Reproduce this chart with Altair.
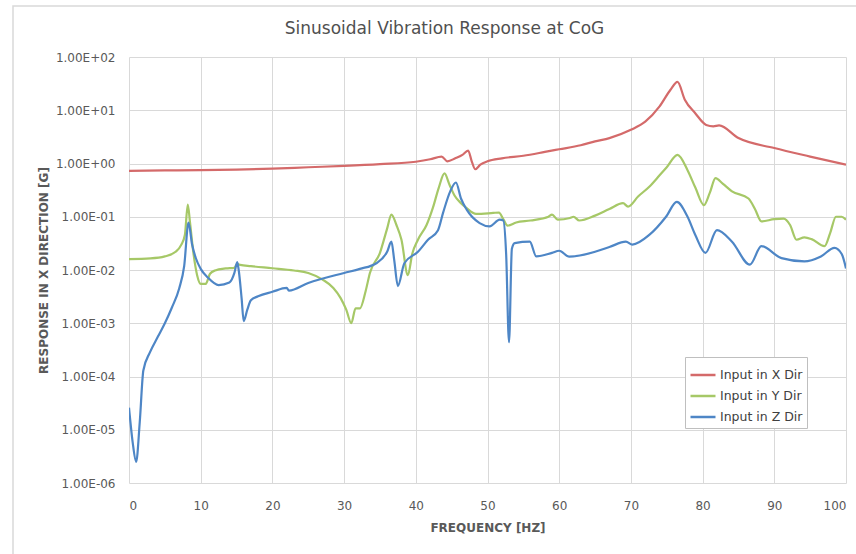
import altair as alt
import pandas as pd

# ---- data ----
x_freq = [0, 5, 10, 15, 20, 25, 30, 35, 40, 42, 43.6, 44.4, 45.5, 46.5, 47.3, 47.8, 48.3, 49, 50, 52,
          55, 58, 60, 63, 65, 67, 70, 72, 74, 75.5, 76.5, 77.5, 79, 80.5, 81.5, 82.3, 85, 90, 95, 100]
x_resp = [0.73, 0.74, 0.75, 0.77, 0.80, 0.85, 0.90, 0.97, 1.08, 1.2, 1.35, 1.1, 1.25, 1.45, 1.75, 1.1, 0.78, 0.95, 1.1, 1.25,
          1.4, 1.65, 1.85, 2.2, 2.6, 3.0, 4.3, 6.1, 11.8, 24, 34, 16, 8.7, 5.3, 5.0, 5.2, 3.0, 1.95, 1.35, 0.95]

y_freq = [0, 3, 5, 6.5, 7.3, 7.8, 8.2, 8.5, 9, 9.5, 10, 10.7, 11.3, 12, 13.5, 14.7, 15.1, 15.5, 17, 20,
          23, 25, 27, 28.5, 29.5, 30.3, 31, 31.6, 32.2, 33, 33.6, 35, 36, 36.6, 37.3, 38, 38.9, 39.5, 40.3, 41.5,
          42.4, 43.2, 44, 44.7, 45.4, 46.3, 47.1, 48.4, 50.8, 51.6, 52.2, 52.8, 54, 56, 58.5, 59, 59.8, 61.5, 62, 62.8,
          65, 67, 68.9, 69.6, 71, 72.6, 74, 75, 76.5, 77.9, 79, 80.2, 81, 81.8, 82.8, 84.1, 86.4, 87.3, 88.2, 90,
          91.3, 92.2, 93.1, 94.2, 95.2, 97, 97.8, 98.6, 99.4, 100]
y_resp = [0.016, 0.0165, 0.018, 0.022, 0.03, 0.046, 0.17, 0.08, 0.02, 0.008, 0.0055, 0.0055, 0.0085, 0.0098, 0.0107, 0.011, 0.013, 0.0125, 0.0118, 0.0108,
          0.0098, 0.0088, 0.0066, 0.0046, 0.003, 0.0018, 0.001, 0.0019, 0.0019, 0.004, 0.0088, 0.021, 0.06, 0.11, 0.07, 0.037, 0.008, 0.02, 0.037, 0.07,
          0.15, 0.35, 0.65, 0.4, 0.25, 0.18, 0.145, 0.113, 0.118, 0.12, 0.09, 0.068, 0.078, 0.085, 0.10, 0.11, 0.088, 0.095, 0.10, 0.085,
          0.105, 0.14, 0.18, 0.155, 0.24, 0.37, 0.6, 0.85, 1.45, 0.75, 0.35, 0.165, 0.28, 0.53, 0.42, 0.30, 0.22, 0.14, 0.082, 0.09,
          0.092, 0.07, 0.037, 0.041, 0.038, 0.028, 0.05, 0.1, 0.1, 0.088]

z_freq = [0, 0.5, 1.0, 1.5, 2.0, 2.9, 4, 5, 6, 7, 7.7, 8.3, 8.8, 9.3, 10, 11, 12.5, 14, 14.7, 15.1,
          15.3, 15.7, 16, 16.5, 17, 18, 20, 22, 22.3, 25, 30, 32.2, 34.5, 36, 36.6, 37, 37.5, 38.4, 40.3, 41.7,
          43.1, 43.8, 44.8, 45.6, 46.3, 47.1, 48.9, 50.3, 51.7, 52.2, 52.6, 53, 53.4, 53.8, 55.9, 56.8, 59, 60, 61.4, 65,
          67, 69.3, 70.2, 72.6, 74.9, 76.4, 77.9, 79, 80.4, 82, 84.1, 86.6, 88.2, 91, 94.2, 96.5, 98.4, 99.4, 100]
z_resp = [2.6e-5, 6e-6, 2.5e-6, 1.4e-5, 1.3e-4, 2.8e-4, 5.5e-4, 1e-3, 2e-3, 4.5e-3, 0.012, 0.078, 0.03, 0.017, 0.0105, 0.0072, 0.0052, 0.0058, 0.0088, 0.014,
          0.01, 0.003, 0.0011, 0.0018, 0.0027, 0.0032, 0.0039, 0.0046, 0.0041, 0.0057, 0.0088, 0.0105, 0.0134, 0.022, 0.034, 0.015, 0.005, 0.0134, 0.022, 0.037,
          0.056, 0.118, 0.3, 0.44, 0.22, 0.136, 0.076, 0.066, 0.088, 0.085, 0.02, 4.4e-4, 0.025, 0.032, 0.034, 0.018, 0.021, 0.023, 0.0178, 0.022,
          0.027, 0.034, 0.030, 0.046, 0.10, 0.19, 0.10, 0.045, 0.021, 0.056, 0.034, 0.0126, 0.028, 0.0167, 0.0145, 0.018, 0.026, 0.02, 0.0107]

series_names = ["Input in X Dir", "Input in Y Dir", "Input in Z Dir"]
series_colors = ["#D46A6A", "#A6C867", "#4E86C6"]
x_ticks = [0, 10, 20, 30, 40, 50, 60, 70, 80, 90, 100]
y_ticks = [1e-6, 1e-5, 1e-4, 1e-3, 1e-2, 1e-1, 1e0, 1e1, 1e2]

rows = []
for name, fr, rs in zip(series_names, [x_freq, y_freq, z_freq], [x_resp, y_resp, z_resp]):
    for i, (f, r) in enumerate(zip(fr, rs)):
        rows.append({"series": name, "freq": f, "resp": r, "order": i})
df = pd.DataFrame(rows)

FONT = "DejaVu Sans"
GRAY = "#595959"

label_expr = ("'1.00E' + (round(log(datum.value)/LN10) < 0 ? '-' : '+') + "
              "(abs(round(log(datum.value)/LN10)) < 10 ? '0' : '') + abs(round(log(datum.value)/LN10))")

lines = alt.Chart(df).mark_line(strokeWidth=2.2, clip=True, interpolate="monotone").encode(
    x=alt.X("freq:Q", scale=alt.Scale(domain=[0, 100], nice=False),
            axis=alt.Axis(values=x_ticks, title="FREQUENCY [HZ]", tickSize=0, domain=False,
                          labelPadding=17, titlePadding=11, grid=True, gridColor="#D9D9D9")),
    y=alt.Y("resp:Q", scale=alt.Scale(type="log", domain=[1e-6, 1e2], nice=False),
            axis=alt.Axis(values=y_ticks, title="RESPONSE IN X DIRECTION [G]", tickSize=0, domain=False,
                          labelPadding=14, titlePadding=5, labelExpr=label_expr, grid=True, gridColor="#D9D9D9")),
    color=alt.Color("series:N", scale=alt.Scale(domain=series_names, range=series_colors),
                    legend=alt.Legend(title=None, orient="none", legendX=556, legendY=300,
                                      symbolType="M-1,0H1", symbolStrokeWidth=2.5, symbolSize=625,
                                      labelFontSize=12.5, labelColor="#404040", labelFont=FONT,
                                      rowPadding=0, padding=4, strokeColor="#BFBFBF", fillColor="white",
                                      labelOffset=3)),
    order="order:Q",
)

frame = alt.Chart(pd.DataFrame({"k": [0]})).mark_rect(fill=None, stroke="#D9D9D9", strokeWidth=1.5).encode(
    x=alt.value(-116), x2=alt.value(740), y=alt.value(-51), y2=alt.value(510)
)

chart = alt.layer(frame, lines).properties(
    width=717, height=426,
    background="white",
    title=alt.TitleParams("Sinusoidal Vibration Response at CoG", font=FONT, fontSize=17,
                          fontWeight="normal", color="#505050", anchor="middle", dx=-43, offset=-33,
                          frame="group"),
    autosize=alt.AutoSizeParams(type="none"),
    padding={"left": 129, "top": 57, "right": 10, "bottom": 71},
).configure_view(stroke=None).configure_axis(
    labelFont=FONT, labelFontSize=12, labelColor=GRAY,
    titleFont=FONT, titleFontSize=12, titleColor=GRAY, titleFontWeight="bold",
)

chart.save("out.html", embed_options={"renderer": "svg", "actions": False})
